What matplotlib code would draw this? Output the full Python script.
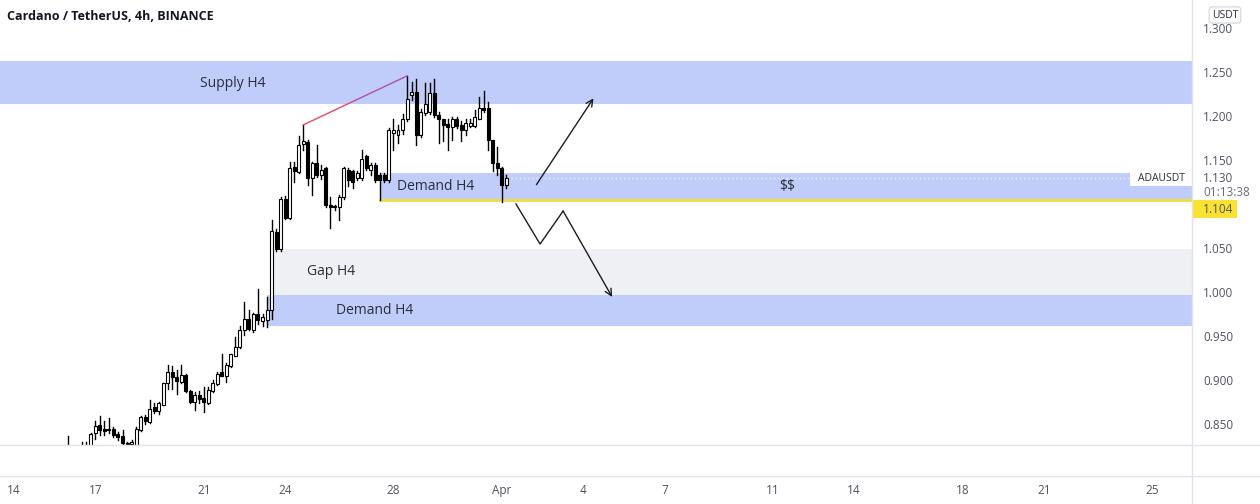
import matplotlib
matplotlib.use('agg')
import matplotlib.pyplot as plt
import matplotlib.dates as mdates
import pandas as pd
from matplotlib.patches import Rectangle
from matplotlib.lines import Line2D

# ---- data: ADA/USDT 4h candles, 16 Mar 2022 00:00 -> 1 Apr 2022 04:00 ----
times = pd.date_range("2022-03-16 00:00", periods=98, freq="4h")

opens = [
    0.822, 0.818, 0.815, 0.819, 0.817, 0.822,
    0.840, 0.849, 0.844, 0.843, 0.844, 0.839,
    0.836, 0.828, 0.827, 0.826, 0.843, 0.858,
    0.852, 0.869, 0.865, 0.872, 0.897, 0.909,
    0.903, 0.898, 0.906, 0.888, 0.875, 0.883,
    0.880, 0.874, 0.888, 0.895, 0.909, 0.905,
    0.916, 0.927, 0.938, 0.957, 0.969, 0.957,
    0.975, 0.967, 0.968, 0.980, 1.068, 1.049,
    1.106, 1.084, 1.142, 1.136, 1.168, 1.170,
    1.129, 1.147, 1.133, 1.141, 1.099, 1.098,
    1.096, 1.108, 1.139, 1.137, 1.129, 1.129,
    1.154, 1.139, 1.144, 1.133, 1.133, 1.127,
    1.181, 1.178, 1.184, 1.196, 1.224, 1.227,
    1.178, 1.203, 1.204, 1.226, 1.201, 1.196,
    1.191, 1.188, 1.196, 1.190, 1.184, 1.189,
    1.189, 1.197, 1.209, 1.209, 1.173, 1.147,
    1.141, 1.122,
]
highs = [
    0.836, 0.824, 0.823, 0.829, 0.829, 0.840,
    0.853, 0.859, 0.853, 0.857, 0.847, 0.841,
    0.843, 0.830, 0.832, 0.846, 0.859, 0.860,
    0.877, 0.874, 0.875, 0.897, 0.917, 0.916,
    0.911, 0.917, 0.907, 0.889, 0.886, 0.887,
    0.892, 0.892, 0.900, 0.909, 0.930, 0.919,
    0.930, 0.949, 0.961, 0.989, 0.980, 0.976,
    1.003, 0.975, 0.994, 1.082, 1.072, 1.108,
    1.109, 1.148, 1.148, 1.177, 1.190, 1.173,
    1.148, 1.167, 1.144, 1.142, 1.108, 1.099,
    1.110, 1.142, 1.141, 1.139, 1.137, 1.161,
    1.156, 1.146, 1.146, 1.135, 1.135, 1.186,
    1.196, 1.190, 1.202, 1.246, 1.239, 1.242,
    1.208, 1.237, 1.237, 1.242, 1.205, 1.197,
    1.196, 1.199, 1.199, 1.194, 1.196, 1.197,
    1.207, 1.222, 1.228, 1.216, 1.173, 1.165,
    1.142, 1.133,
]
lows = [
    0.812, 0.810, 0.808, 0.810, 0.812, 0.818,
    0.833, 0.838, 0.838, 0.840, 0.835, 0.832,
    0.826, 0.822, 0.822, 0.822, 0.842, 0.850,
    0.851, 0.862, 0.861, 0.871, 0.890, 0.890,
    0.884, 0.896, 0.886, 0.874, 0.866, 0.874,
    0.864, 0.873, 0.886, 0.894, 0.904, 0.898,
    0.915, 0.927, 0.936, 0.951, 0.957, 0.955,
    0.964, 0.961, 0.960, 0.969, 1.047, 1.047,
    1.083, 1.083, 1.125, 1.135, 1.161, 1.122,
    1.110, 1.131, 1.128, 1.097, 1.073, 1.093,
    1.082, 1.106, 1.120, 1.118, 1.127, 1.127,
    1.139, 1.133, 1.125, 1.105, 1.125, 1.125,
    1.161, 1.169, 1.180, 1.194, 1.218, 1.167,
    1.176, 1.201, 1.202, 1.199, 1.169, 1.171,
    1.161, 1.173, 1.186, 1.171, 1.178, 1.188,
    1.187, 1.196, 1.205, 1.161, 1.137, 1.133,
    1.102, 1.118,
]
closes = [
    0.818, 0.815, 0.819, 0.817, 0.822, 0.839,
    0.848, 0.843, 0.842, 0.843, 0.838, 0.835,
    0.828, 0.827, 0.829, 0.844, 0.858, 0.853,
    0.867, 0.865, 0.874, 0.897, 0.909, 0.903,
    0.899, 0.906, 0.887, 0.875, 0.883, 0.878,
    0.875, 0.889, 0.896, 0.907, 0.905, 0.917,
    0.930, 0.938, 0.957, 0.969, 0.958, 0.975,
    0.968, 0.971, 0.980, 1.069, 1.049, 1.106,
    1.084, 1.141, 1.137, 1.167, 1.171, 1.130,
    1.146, 1.133, 1.139, 1.099, 1.097, 1.096,
    1.108, 1.141, 1.127, 1.125, 1.135, 1.151,
    1.141, 1.144, 1.127, 1.127, 1.127, 1.184,
    1.184, 1.184, 1.196, 1.219, 1.227, 1.178,
    1.205, 1.214, 1.226, 1.201, 1.196, 1.190,
    1.188, 1.196, 1.189, 1.184, 1.192, 1.192,
    1.199, 1.209, 1.207, 1.173, 1.146, 1.141,
    1.122, 1.130,
]

# zones: (start, bottom, top)
supply_zone = (1.2136, 1.2625)
demand_upper = ("2022-03-27 12:00", 1.1023, 1.1352)
gap_zone = ("2022-03-23 14:00", 0.9966, 1.0489)
demand_lower = ("2022-03-23 08:00", 0.9614, 0.9966)

# drawn lines
trend_line = (["2022-03-24 16:00", "2022-03-28 12:00"], [1.1898, 1.2455])
up_arrow = (["2022-04-02 05:15", "2022-04-04 10:30"], [1.1193, 1.2227])
zigzag_x = ["2022-04-01 12:30", "2022-04-02 09:50", "2022-04-03 06:15", "2022-04-05 01:40"]
zigzag_y = [1.100, 1.0545, 1.092, 0.9943]

last_price = 1.130
level_price = 1.104
level_start = "2022-03-27 12:00"

price_ticks = [0.850, 0.900, 0.950, 1.000, 1.050, 1.150, 1.200, 1.250, 1.300]
date_ticks = ["2022-03-14", "2022-03-17", "2022-03-21", "2022-03-24", "2022-03-28",
              "2022-04-01", "2022-04-04", "2022-04-07", "2022-04-11", "2022-04-14",
              "2022-04-18", "2022-04-21", "2022-04-25"]
date_labels = ["14", "17", "21", "24", "28", "Apr", "4", "7", "11", "14", "18", "21", "25"]

# ---- figure ----
W, H = 1260, 504
fig = plt.figure(figsize=(W / 100, H / 100), dpi=100)
plt.rcParams['font.family'] = ['Open Sans', 'DejaVu Sans']

ax = fig.add_axes([0, 1 - 445 / H, 1192 / W, 445 / H])
for s in ax.spines.values():
    s.set_visible(False)

d = lambda s: mdates.date2num(pd.Timestamp(s))
x_left, x_right = d("2022-03-13 11:30"), d("2022-04-26 11:15")
ax.set_xlim(x_left, x_right)
ax.set_ylim(0.8261, 1.3318)

blue = '#c0cdfa'
gray = '#eef0f3'
txt = '#2a2e39'

# zones
ax.axhspan(supply_zone[0], supply_zone[1], color=blue, lw=0, zorder=1)
for (start, lo, hi), col in [(demand_upper, blue), (gap_zone, gray), (demand_lower, blue)]:
    ax.add_patch(Rectangle((d(start), lo), x_right - d(start) + 1, hi - lo,
                           facecolor=col, lw=0, zorder=1))

ax.text(d("2022-03-22 02:00"), 1.2364, "Supply H4", fontsize=10, color=txt, ha='center', va='center', zorder=5)
ax.text(d("2022-03-29 13:40"), 1.1193, "Demand H4", fontsize=10, color=txt, ha='center', va='center', zorder=5)
ax.text(d("2022-04-11 12:30"), 1.1193, r"\$\$", fontsize=10, color=txt, ha='center', va='center', zorder=5)
ax.text(d("2022-03-25 17:00"), 1.0227, "Gap H4", fontsize=10, color=txt, ha='center', va='center', zorder=5)
ax.text(d("2022-03-27 07:40"), 0.9784, "Demand H4", fontsize=10, color=txt, ha='center', va='center', zorder=5)

# yellow level and dotted last price line
ax.plot([d(level_start), x_right], [level_price, level_price], color='#f3df3a', lw=2, zorder=2)
ax.plot([d("2022-04-01 08:00"), x_right], [last_price, last_price], color='#eef1fb',
        lw=1, ls=(0, (1, 2)), zorder=2)

# candles
tnum = mdates.date2num(times)
for t, o, h, l, c in zip(tnum, opens, highs, lows, closes):
    ax.plot([t, t], [l, h], color='black', lw=1, zorder=3)
    up = c >= o
    ax.add_patch(Rectangle((t - 0.055, min(o, c)), 0.11, max(abs(c - o), 0.0008),
                           facecolor='white' if up else 'black', edgecolor='black',
                           lw=0.8, zorder=4))

# trend line (red -> purple)
tx = [d(s) for s in trend_line[0]]
ty = trend_line[1]
ax.plot([tx[0], (tx[0] + tx[1]) / 2], [ty[0], (ty[0] + ty[1]) / 2], color='#e04a6a', lw=1, zorder=5)
ax.plot([(tx[0] + tx[1]) / 2, tx[1]], [(ty[0] + ty[1]) / 2, ty[1]], color='#b04fae', lw=1, zorder=5)

# arrows
ax.annotate("", xy=(d(up_arrow[0][1]), up_arrow[1][1]), xytext=(d(up_arrow[0][0]), up_arrow[1][0]),
            arrowprops=dict(arrowstyle='->', color='#1c1c1c', lw=1, mutation_scale=12), zorder=6)
zx = [d(s) for s in zigzag_x]
ax.plot(zx[:-1], zigzag_y[:-1], color='#1c1c1c', lw=1, zorder=6)
ax.annotate("", xy=(zx[-1], zigzag_y[-1]), xytext=(zx[-2], zigzag_y[-2]),
            arrowprops=dict(arrowstyle='->', color='#1c1c1c', lw=1, mutation_scale=12,
                            shrinkA=0, shrinkB=0), zorder=6)

# axes ticks
ax.yaxis.tick_right()
ax.set_yticks(price_ticks)
ax.set_yticklabels([f"{p:.3f}" for p in price_ticks])
ax.tick_params(axis='y', length=0, pad=8, labelsize=8.5, labelcolor='#50535e')
ax.set_xticks([d(s) for s in date_ticks])
ax.set_xticklabels(date_labels)
ax.tick_params(axis='x', length=0, pad=28, labelsize=8.5, labelcolor='#50535e')

# right scale extras (figure pixel coords, origin top-left)
def fy(y):
    return 1 - y / H

fig.text(1203 / W, fy(178), "1.130", fontsize=8.5, color='#50535e', va='center')
fig.text(1203 / W, fy(192), "01:13:38", fontsize=8.5, color='#6a6d78', va='center')
fig.add_artist(Rectangle((1192 / W, fy(218)), 45 / W, 18 / H, transform=fig.transFigure,
                         facecolor='#f9e231', lw=0, zorder=2))
fig.text(1203 / W, fy(209), "1.104", fontsize=8.5, color='#50535e', va='center', zorder=4)
fig.add_artist(Rectangle((1130 / W, fy(186)), 62 / W, 15 / H, transform=fig.transFigure,
                         facecolor='white', lw=0, zorder=2))
fig.text(1161 / W, fy(178.5), "ADAUSDT", fontsize=7.5, color=txt, ha='center', va='center', zorder=4)
fig.text(1225 / W, fy(15), "USDT", fontsize=7.5, color=txt, ha='center', va='center', zorder=4,
         bbox=dict(boxstyle='round,pad=0.25', facecolor='white', edgecolor='#d1d4dc', lw=0.8))

# separators
sep = '#e0e3eb'
fig.add_artist(Line2D([1192 / W, 1192 / W], [0, 1], color=sep, lw=1))
fig.add_artist(Line2D([0, 1], [fy(445), fy(445)], color=sep, lw=1))
fig.add_artist(Line2D([0, 1], [fy(476), fy(476)], color=sep, lw=1))

fig.text(7 / W, fy(16), "Cardano / TetherUS, 4h, BINANCE", fontsize=9, fontweight='bold',
         color='#131722', va='center')

fig.savefig("out.png", dpi=100)
